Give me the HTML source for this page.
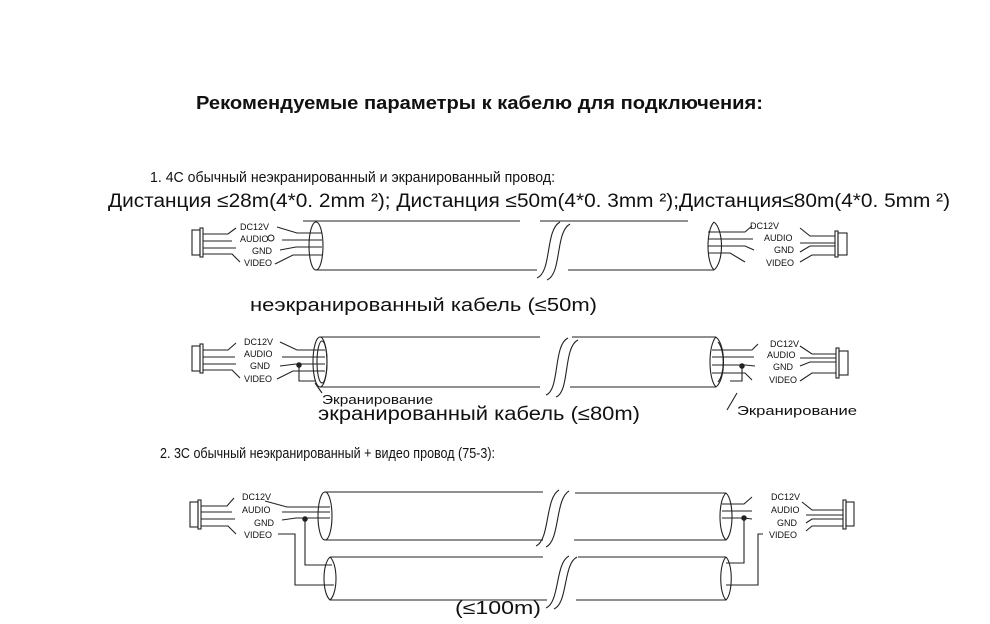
<!DOCTYPE html>
<html><head><meta charset="utf-8"><style>
html,body{margin:0;padding:0;background:#fff;}
svg{display:block;}
text{font-family:"Liberation Sans","DejaVu Sans",sans-serif;fill:#111;}
.lb{font-size:9px;font-family:"Liberation Mono",monospace;}
</style></head><body>
<svg width="990" height="624" viewBox="0 0 990 624" xmlns="http://www.w3.org/2000/svg">
<g stroke="#222" stroke-width="1.1" fill="none">
<!-- ===== Cable 1 ===== -->
<ellipse cx="316" cy="246" rx="7" ry="24"/>
<line x1="303" y1="221" x2="520" y2="221"/>
<line x1="316" y1="270" x2="537" y2="270"/>
<path d="M537 278 C552 272 545 230 560 222 M547 280 C562 274 555 232 570 224"/>
<line x1="540" y1="221" x2="688" y2="221"/>
<line x1="568" y1="270" x2="714" y2="270"/>
<path d="M714 222 C724 230 724 262 714 270"/>
<path d="M714 222 C706 230 706 262 714 270"/>
<rect x="192" y="230" width="8" height="25"/>
<rect x="200" y="228" width="3" height="29"/>
<path d="M203 234 H228 L236 228 M203 241 H232 M203 248 H236 M203 254 H232 L240 262"/>
<path d="M277 227 L297 233 H322 M282 240 H322 M280 250 L296 247 H322 M275 264 L293 255 H322"/>
<path d="M708 232 H745 L752 226 M708 239 H753 M708 246 H745 L754 250 M708 253 H730 L745 262"/>
<path d="M800 228 L810 236 H835 M800 243 H835 M800 252 L810 246 H835 M800 262 L812 255 H835"/>
<rect x="835" y="231" width="3" height="26"/>
<rect x="838" y="233" width="9" height="22"/>
<!-- ===== Cable 2 ===== -->
<ellipse cx="320" cy="362" rx="7" ry="25"/>
<ellipse cx="322" cy="362" rx="5" ry="21"/>
<line x1="320" y1="337" x2="540" y2="337"/>
<line x1="320" y1="387" x2="540" y2="387"/>
<path d="M546 395 C560 390 553 345 568 338 M556 397 C570 392 563 347 578 340"/>
<line x1="572" y1="337" x2="716" y2="337"/>
<line x1="570" y1="387" x2="716" y2="387"/>
<path d="M716 337 C726 345 726 379 716 387"/>
<path d="M716 337 C708 345 708 379 716 387"/>
<path d="M718 342 C725 350 725 374 718 382"/>
<rect x="192" y="346" width="8" height="25"/>
<rect x="200" y="344" width="3" height="29"/>
<path d="M203 350 H228 L236 343 M203 357 H235 M203 364 H236 M203 370 H232 L240 378"/>
<path d="M280 342 L297 350 H325 M282 357 H325 M280 366 L296 364 H325 M277 379 L293 371 H325"/>
<circle cx="299" cy="365" r="2.2" fill="#222"/>
<path d="M299 365 V381 H316 M315 383 L322 393"/>
<path d="M712 350 H752 L758 344 M712 357 H754 M712 365 H745 L755 366 M712 373 H745 L752 380"/>
<circle cx="742" cy="366" r="2.2" fill="#222"/>
<path d="M742 366 V381 H730 M737 393 L727 410"/>
<path d="M800 346 L812 354 H836 M800 358 H836 M800 366 L810 362 H836 M800 381 L812 373 H836"/>
<rect x="836" y="348" width="3" height="30"/>
<rect x="839" y="351" width="9" height="24"/>
<!-- ===== Cable 3 top ===== -->
<ellipse cx="325" cy="516" rx="7" ry="24"/>
<line x1="325" y1="492" x2="543" y2="492"/>
<line x1="325" y1="540" x2="543" y2="540"/>
<path d="M536 546 C550 540 545 498 559 490 M546 547 C560 541 555 499 569 491"/>
<line x1="575" y1="493" x2="726" y2="493"/>
<line x1="574" y1="540" x2="726" y2="540"/>
<path d="M726 493 C734 500 734 533 726 540 C718 533 718 500 726 493"/>
<!-- lower cable -->
<path d="M330 557 C338 564 338 593 330 600 C322 593 322 564 330 557"/>
<line x1="330" y1="557" x2="543" y2="557"/>
<line x1="330" y1="600" x2="547" y2="600"/>
<path d="M546 608 C560 602 555 563 569 556 M554 609 C568 603 563 564 577 557"/>
<line x1="578" y1="557" x2="726" y2="557"/>
<line x1="576" y1="600" x2="726" y2="600"/>
<path d="M726 557 C733 564 733 593 726 600 C719 593 719 564 726 557"/>
<!-- connectors 3 -->
<rect x="190" y="502" width="8" height="25"/>
<rect x="198" y="500" width="3" height="29"/>
<path d="M201 506 H227 L234 498 M201 512 H232 M201 519 H235 M201 526 H228 L236 534"/>
<path d="M265 501 L287 507 H330 M282 512 H330 M282 520 L296 518 H330"/>
<path d="M278 534 H295 V585 H334"/>
<circle cx="305" cy="519" r="2.2" fill="#222"/>
<path d="M305 519 V565 H332"/>
<path d="M722 504 H744 L752 497 M722 511 H752 M722 518 H744 L752 519"/>
<circle cx="744" cy="518" r="2.2" fill="#222"/>
<path d="M744 518 V563 H726 M763 534 H758 V585 H726"/>
<path d="M802 502 L812 510 H843 M806 515 H843 M806 523 L812 519 H843 M806 531 L812 526 H843"/>
<rect x="843" y="500" width="3" height="29"/>
<rect x="846" y="502" width="8" height="24"/>
</g>
<g stroke="#222" stroke-width="1" fill="none"><circle cx="271" cy="238" r="3"/></g>
<text x="196" y="109" font-size="18" font-weight="bold" textLength="567" lengthAdjust="spacingAndGlyphs">Рекомендуемые параметры к кабелю для подключения:</text>
<text x="150" y="182" font-size="15" textLength="405" lengthAdjust="spacingAndGlyphs">1. 4С обычный неэкранированный и экранированный провод:</text>
<text x="108" y="207" font-size="19" textLength="842" lengthAdjust="spacingAndGlyphs">Дистанция ≤28m(4*0. 2mm ²); Дистанция ≤50m(4*0. 3mm ²);Дистанция≤80m(4*0. 5mm ²)</text>
<text x="250" y="311" font-size="18" textLength="347" lengthAdjust="spacingAndGlyphs">неэкранированный кабель (≤50m)</text>
<text x="322" y="404" font-size="13" textLength="111" lengthAdjust="spacingAndGlyphs">Экранирование</text>
<text x="318" y="420" font-size="19" textLength="322" lengthAdjust="spacingAndGlyphs">экранированный кабель (≤80m)</text>
<text x="737" y="415" font-size="13" textLength="120" lengthAdjust="spacingAndGlyphs">Экранирование</text>
<text x="160" y="458" font-size="15" textLength="335" lengthAdjust="spacingAndGlyphs">2. 3С обычный неэкранированный + видео провод (75-3):</text>
<text x="455" y="614" font-size="18" textLength="86" lengthAdjust="spacingAndGlyphs">(≤100m)</text>
<g class="lb">
<text x="240" y="230">DC12V</text><text x="240" y="242">AUDIO</text><text x="252" y="254">GND</text><text x="244" y="266">VIDEO</text>
<text x="750" y="229">DC12V</text><text x="764" y="241">AUDIO</text><text x="774" y="253">GND</text><text x="766" y="266">VIDEO</text>
<text x="244" y="345">DC12V</text><text x="244" y="357">AUDIO</text><text x="250" y="369">GND</text><text x="244" y="382">VIDEO</text>
<text x="770" y="347">DC12V</text><text x="767" y="358">AUDIO</text><text x="773" y="370">GND</text><text x="769" y="383">VIDEO</text>
<text x="242" y="500">DC12V</text><text x="242" y="513">AUDIO</text><text x="254" y="526">GND</text><text x="244" y="538">VIDEO</text>
<text x="771" y="500">DC12V</text><text x="771" y="513">AUDIO</text><text x="777" y="526">GND</text><text x="769" y="538">VIDEO</text>
</g>
</svg>
</body></html>
